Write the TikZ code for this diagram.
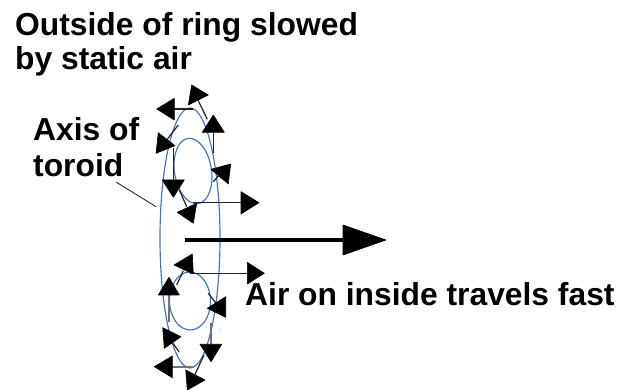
\documentclass[tikz,border=0pt]{standalone}
\usepackage{fontspec}
\setmainfont{Liberation Sans}
\definecolor{ringblue}{HTML}{4472B4}
\definecolor{shaft}{HTML}{222222}
\tikzset{
  ring/.style={draw=ringblue,line width=1.15pt},
  shaftline/.style={draw=shaft,line width=1.2pt},
  greyshaft/.style={draw=black!55,line width=1.8pt},
  headfill/.style={fill=black,draw=black,line width=0.6pt,line join=round},
  lab/.style={anchor=base west,inner sep=0pt,font=\fontsize{31.8}{32}\selectfont\bfseries}
}
\begin{document}
\begin{tikzpicture}[x=1pt,y=-1pt]
\useasboundingbox (0,0) rectangle (633,390);
\draw[ring] (190,238) ellipse [x radius=30,y radius=130];
\draw[ring,rotate around={9:(193,171)}] (193,171) ellipse [x radius=18.5,y radius=33];
\draw[ring,rotate around={1:(190,301)}] (190,301) ellipse [x radius=20.5,y radius=29];
\fill[ringblue] (219.3,330) circle (0.5);
% top ring arrows
\draw[shaftline] (193.3,109)--(174,109); \path[headfill] (156.7,109)--(174.3,98.3)--(174.3,120)--cycle;
\draw[shaftline] (207.3,119.3)--(198.3,100.7); \path[headfill] (191.7,85)--(188.3,105)--(208.3,95)--cycle;
\draw[shaftline] (213.3,132)--(213.3,153.3); \path[headfill] (213.3,115)--(202.3,132.3)--(224.3,132.3)--cycle;
\draw[shaftline] (178.3,125)--(166.7,140); \path[headfill] (158.3,132.7)--(156,153.3)--(175,145.7)--cycle;
\draw[shaftline] (173.3,148.3)--(173.3,180); \path[headfill] (162.3,180)--(184.3,180)--(173.3,197.3)--cycle;
\draw[shaftline] (219.3,175)--(213.3,181.7); \path[headfill] (211,169.3)--(230.7,164)--(228.3,184)--cycle;
\draw[shaftline] (179.3,190)--(186.7,206.7); \path[headfill] (177.3,212.3)--(196.7,203.3)--(193.3,223.3)--cycle;
\draw[shaftline] (193.3,202.7)--(241,202.7); \path[headfill] (259,202.7)--(241,191.7)--(241,214)--cycle;
% axis leader
\draw[black,line width=0.7pt] (116,182)--(156,206.7);
% main arrow
\draw[black,line width=4pt] (185,240)--(344,240); \path[headfill] (386,240)--(343,225)--(343,255)--cycle;
% bottom ring arrows
\draw[shaftline] (183.3,270.7)--(176.7,285); \path[headfill] (174,265)--(192.3,254)--(193.3,274)--cycle;
\draw[shaftline] (190,273.3)--(247.3,273.3); \path[headfill] (264.3,273.3)--(247.3,262.3)--(247.3,284)--cycle;
\draw[greyshaft] (169,295)--(169,321.7); \path[headfill] (169,277.3)--(158.3,295)--(179.3,295)--cycle;
\draw[shaftline] (208.3,293.3)--(216,303.3); \path[headfill] (207.3,308.3)--(225.7,296.7)--(225.7,317.3)--cycle;
\draw[shaftline] (179,351.7)--(171.7,341.7); \path[headfill] (181,336.7)--(162.7,327.7)--(164.3,348.3)--cycle;
\draw[greyshaft] (211,323.3)--(211,344.3); \path[headfill] (200,344.3)--(221.7,344.3)--(211,361.7)--cycle;
\draw[greyshaft] (193.3,366.7)--(172.3,366.7); \path[headfill] (154.3,366.7)--(172.3,356)--(172.3,377.7)--cycle;
\draw[shaftline] (204,355)--(195,374.3); \path[headfill] (185.7,370)--(205,380)--(187.3,390)--cycle;
% labels
\node[lab] (outside1) at (15,35.5) {Outside of ring slowed};
\node[lab] (outside2) at (15,70) {by static air};
\node[lab] (axis1) at (33,140.5) {Axis of};
\node[lab] (axis2) at (33,177) {toroid};
\node[lab] (inside) at (245,306) {Air on inside travels fast};
\end{tikzpicture}
\end{document}
